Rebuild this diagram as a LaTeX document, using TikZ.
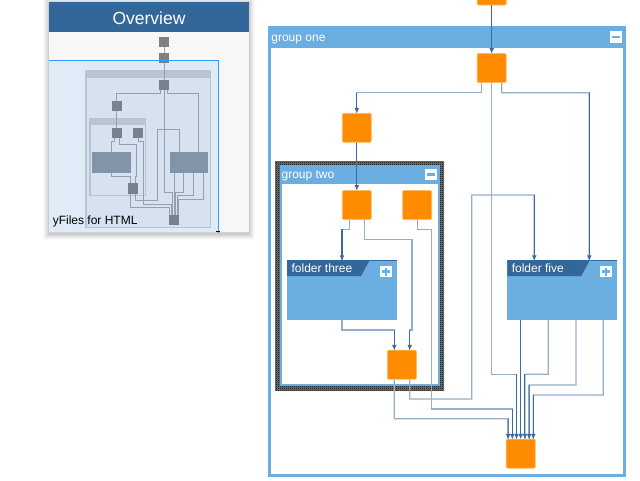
\documentclass[tikz,border=0pt]{standalone}
\usepackage{fontspec}
\setmainfont{Liberation Sans}
\usetikzlibrary{arrows.meta,patterns}

% one-pixel checkerboard for the selection frame
\pgfdeclarepatternformonly{finecheck}{\pgfqpoint{0pt}{0pt}}{\pgfqpoint{2pt}{2pt}}{\pgfqpoint{2pt}{2pt}}{%
  \pgfpathrectangle{\pgfqpoint{0pt}{0pt}}{\pgfqpoint{1pt}{1pt}}%
  \pgfpathrectangle{\pgfqpoint{1pt}{1pt}}{\pgfqpoint{1pt}{1pt}}%
  \pgfusepath{fill}}

\definecolor{grpblue}{HTML}{6AAEE2}
\definecolor{hdrblue}{HTML}{336699}
\definecolor{nodeorange}{HTML}{FF8C00}
\definecolor{nodeedge}{HTML}{FFB866}
\definecolor{edgelight}{HTML}{94AFCB}
\definecolor{edgedark}{HTML}{3A6B9E}
\definecolor{panelbg}{HTML}{F7F7F7}
\definecolor{viewblue}{HTML}{3399FF}
\definecolor{minigray}{HTML}{808080}
\definecolor{minifolder}{HTML}{8E949B}
\definecolor{minigrp}{HTML}{CBCBCB}
\definecolor{miniedge}{HTML}{A2A2A2}

\tikzset{
  onode/.style={rectangle, fill=nodeorange, draw=nodeedge, line width=0.8pt,
    minimum width=29pt, minimum height=29pt, inner sep=0pt, rounded corners=1.2pt},
  grpbox/.style={rectangle, draw=grpblue, fill=white, inner sep=0pt},
  folderbox/.style={rectangle, fill=grpblue, inner sep=0pt,
    minimum width=109.4pt, minimum height=59pt},
  lbl/.style={text=white, font=\fontsize{12}{14}\selectfont, inner sep=0pt},
  btn/.style={rectangle, fill=white, minimum size=11.5pt, inner sep=0pt},
  btnbar/.style={draw=grpblue, line width=2.4pt},
  link/.style={draw=edgelight, line width=1.3pt},
  linkend/.style={draw=edgedark, line width=1.1pt,
    -{Triangle[width=4.2pt,length=5pt]}},
  minilink/.style={draw=miniedge, line width=0.7pt},
}

\begin{document}
\begin{tikzpicture}[x=1pt, y=-1pt]
\useasboundingbox (0,0) rectangle (640,480);
\fill[white] (0,0) rectangle (640,480);

% ---------- group one ----------
\node[grpbox, line width=3pt, minimum width=355.5pt, minimum height=447.5pt] (g1) at (446.75,251.25) {};
\fill[grpblue] (g1.north west) rectangle ([yshift=-21.5pt]g1.north east);

% ---------- group two with its selection frame ----------
\fill[black!55] (275,161) rectangle (444,390.7);
\fill[pattern=finecheck, pattern color=black] (275,161) rectangle (444,390.7);
\node[grpbox, line width=2pt, minimum width=157.5pt, minimum height=219pt] (g2) at (359.75,275.5) {};
\fill[grpblue] (g2.north west) rectangle ([yshift=-19pt]g2.north east);

% ---------- nodes ----------
\node[onode] (T) at (491.7,-9.5) {};
\node[onode] (A) at (491.7,68) {};
\node[onode] (B) at (356.8,127.8) {};
\node[onode] (C) at (356.8,205) {};
\node[onode] (D) at (417.2,205) {};
\node[onode] (E) at (402,364.7) {};
\node[onode] (F) at (520.7,453.7) {};

% ---------- folders ----------
\node[folderbox] (f3) at (342,290) {};
\node[folderbox] (f5) at (562.15,290) {};
\foreach \f in {f3,f5}{
  \fill[hdrblue] (\f.north west) -- ++(82.5,0) -- ++(-8.5,15.7) -- ++(-74,0) -- cycle;
  \draw[hdrblue, line width=1pt] ([yshift=-0.5pt]\f.north west) -- ([yshift=-0.5pt]\f.north east);
}

% ---------- connectors ----------
% top node into group one
\draw[linkend] (T.south) -- (A.north);
% A -> B
\draw[link] ([xshift=-10pt]A.south) -- (481.7,92.7) -- (356.8,92.7) -- (B.north);
\draw[linkend] (356.8,92.7) -- (B.north);
% A -> F
\draw[link] (A.south) -- (491.7,374.3) -- (516.5,374.3) -- ([xshift=-4.2pt]F.north);
\draw[linkend] (516.5,374.3) -- ([xshift=-4.2pt]F.north);
% A -> folder five
\draw[link] ([xshift=10pt]A.south) -- (501.7,92.7) -- (589.3,92.7) -- ([xshift=27.15pt]f5.north);
\draw[linkend] (589.3,92.7) -- ([xshift=27.15pt]f5.north);
% B -> C
\draw[linkend] (B.south) -- (C.north);
% C -> folder three
\draw[link] ([xshift=-7.5pt]C.south) -- (349.3,229.3) -- (342,229.3) -- (f3.north);
\draw[linkend] (342,229.3) -- (f3.north);
% C -> E
\draw[link] ([xshift=7.5pt]C.south) -- (364.3,239.3) -- (412,239.3) -- (412,330) -- (409.7,330) -- ([xshift=7.7pt]E.north);
\draw[linkend] (409.7,330) -- ([xshift=7.7pt]E.north);
% D -> F
\draw[link] (D.south) -- (417.2,229.3) -- (431.7,229.3) -- (431.7,409) -- (512.3,409) -- ([xshift=-8.4pt]F.north);
\draw[linkend] (512.3,409) -- ([xshift=-8.4pt]F.north);
% folder three -> E
\draw[link] (f3.south) -- (342,330) -- (394.3,330) -- ([xshift=-7.7pt]E.north);
\draw[linkend] (394.3,330) -- ([xshift=-7.7pt]E.north);
% E -> F
\draw[link] ([xshift=-7.7pt]E.south) -- (394.3,418.7) -- (508.1,418.7) -- ([xshift=-12.6pt]F.north);
\draw[linkend] (508.1,418.7) -- ([xshift=-12.6pt]F.north);
% E -> folder five
\draw[link] ([xshift=7.7pt]E.south) -- (409.7,399) -- (471.7,399) -- (471.7,195) -- (534.3,195) -- ([xshift=-27.85pt]f5.north);
\draw[linkend] (534.3,195) -- ([xshift=-27.85pt]f5.north);
% folder five -> F
\draw[linkend] ([xshift=-41.45pt]f5.south) -- (F.north);
\draw[link] ([xshift=-13.85pt]f5.south) -- (548.3,374.3) -- (524.9,374.3) -- ([xshift=4.2pt]F.north);
\draw[linkend] (524.9,374.3) -- ([xshift=4.2pt]F.north);
\draw[link] ([xshift=13.85pt]f5.south) -- (576,385) -- (529.1,385) -- ([xshift=8.4pt]F.north);
\draw[linkend] (529.1,385) -- ([xshift=8.4pt]F.north);
\draw[link] ([xshift=41.15pt]f5.south) -- (603.3,395) -- (533.3,395) -- ([xshift=12.6pt]F.north);
\draw[linkend] (533.3,395) -- ([xshift=12.6pt]F.north);

% ---------- labels ----------
\node[lbl, anchor=base west] (g1t) at (271.2,41) {group one};
\node[lbl, anchor=base west] (g2t) at (281.4,178.6) {group two};
\node[lbl, anchor=base west] (f3t) at (291.4,272.7) {folder three};
\node[lbl, anchor=base west] (f5t) at (511.6,272.7) {folder five};

% ---------- collapse / expand buttons ----------
\node[btn] (g1b) at (615.8,37.2) {};
\draw[btnbar] ([xshift=-4pt]g1b.center) -- ([xshift=4pt]g1b.center);
\node[btn] (g2b) at (430.8,174.5) {};
\draw[btnbar] ([xshift=-4pt]g2b.center) -- ([xshift=4pt]g2b.center);
\node[btn] (f3b) at (386,271.5) {};
\draw[btnbar] ([xshift=-4pt]f3b.center) -- ([xshift=4pt]f3b.center);
\draw[btnbar] ([yshift=-4pt]f3b.center) -- ([yshift=4pt]f3b.center);
\node[btn] (f5b) at (606.2,271.5) {};
\draw[btnbar] ([xshift=-4pt]f5b.center) -- ([xshift=4pt]f5b.center);
\draw[btnbar] ([yshift=-4pt]f5b.center) -- ([yshift=4pt]f5b.center);

% ---------- overview panel ----------
\foreach \r/\o in {6/0.02,5/0.025,4/0.03,3/0.035,2/0.045,1/0.055}{
  \fill[black, opacity=\o] (49-\r,1.7-\r+1.5) rectangle (249+\r,232+\r+1.5);
}
\fill[panelbg] (49,1.7) rectangle (249,232);
\fill[hdrblue] (49,1.7) rectangle (249,31.7);
\node[text=white, font=\fontsize{17.5}{20}\selectfont, inner sep=0pt, anchor=base] (ovt) at (149,24.3) {Overview};

\begin{scope}
  \clip (49,31.7) rectangle (249,232);
  % miniature of the graph
  \begin{scope}[shift={(-8.1,60.9)}, scale=0.35]
    \fill[fill=white!93!black] (267.5,26) rectangle (626,476.5);
    \draw[minigrp, line width=1.6pt] (268.5,27) rectangle (625,475.5);
    \fill[minigrp] (267.5,26) rectangle (626,47.5);
    \draw[minigrp, line width=1.6pt] (281,166) rectangle (438.5,385);
    \fill[minigrp] (280,165) rectangle (439.5,184);
    \draw[minilink] (491.7,-39.5) -- (491.7,-24);
    \draw[minilink] (491.7,5) -- (491.7,53.5);
    \draw[minilink] (481.7,83) -- (481.7,92.7) -- (356.8,92.7) -- (356.8,113.3);
    \draw[minilink] (491.7,83) -- (491.7,374.3) -- (516.5,374.3) -- (516.5,439);
    \draw[minilink] (501.7,83) -- (501.7,92.7) -- (589.3,92.7) -- (589.3,260.5);
    \draw[minilink] (356.8,142.3) -- (356.8,190.5);
    \draw[minilink] (349.3,219.5) -- (349.3,229.3) -- (342,229.3) -- (342,260.5);
    \draw[minilink] (364.3,219.5) -- (364.3,239.3) -- (412,239.3) -- (412,330) -- (409.7,330) -- (409.7,350);
    \draw[minilink] (417.2,219.5) -- (417.2,229.3) -- (431.7,229.3) -- (431.7,409) -- (512.3,409) -- (512.3,439);
    \draw[minilink] (342,319.5) -- (342,330) -- (394.3,330) -- (394.3,350);
    \draw[minilink] (394.3,379.5) -- (394.3,418.7) -- (508.1,418.7) -- (508.1,439);
    \draw[minilink] (409.7,379.5) -- (409.7,399) -- (471.7,399) -- (471.7,195) -- (534.3,195) -- (534.3,260.5);
    \draw[minilink] (520.7,319.5) -- (520.7,439);
    \draw[minilink] (548.3,319.5) -- (548.3,374.3) -- (524.9,374.3) -- (524.9,439);
    \draw[minilink] (576,319.5) -- (576,385) -- (529.1,385) -- (529.1,439);
    \draw[minilink] (603.3,319.5) -- (603.3,395) -- (533.3,395) -- (533.3,439);
    \foreach \p in {(491.7,-54),(491.7,-9.5),(491.7,68),(356.8,127.8),(356.8,205),(417.2,205),(402,364.7),(520.7,453.7)}{
      \fill[minigray] \p +(-14.5,-14.5) rectangle +(14.5,14.5);
    }
    \fill[minifolder] (287.3,260.5) rectangle (396.7,319.5);
    \fill[minifolder] (507.5,260.5) rectangle (616.8,319.5);
  \end{scope}
  % visible area
  \fill[viewblue, opacity=0.12] (49,60.3) rectangle (218.7,232);
  \draw[viewblue, line width=1pt] (48,60.8) -- (218.2,60.8) -- (218.2,233);
\end{scope}
\draw[black, line width=0.8pt] (216.4,231.6) -- (220.4,231.6);
\node[text=black, font=\fontsize{12}{14}\selectfont, inner sep=0pt, anchor=base west] (yft) at (52.6,224.3) {yFiles for HTML};
\end{tikzpicture}
\end{document}
